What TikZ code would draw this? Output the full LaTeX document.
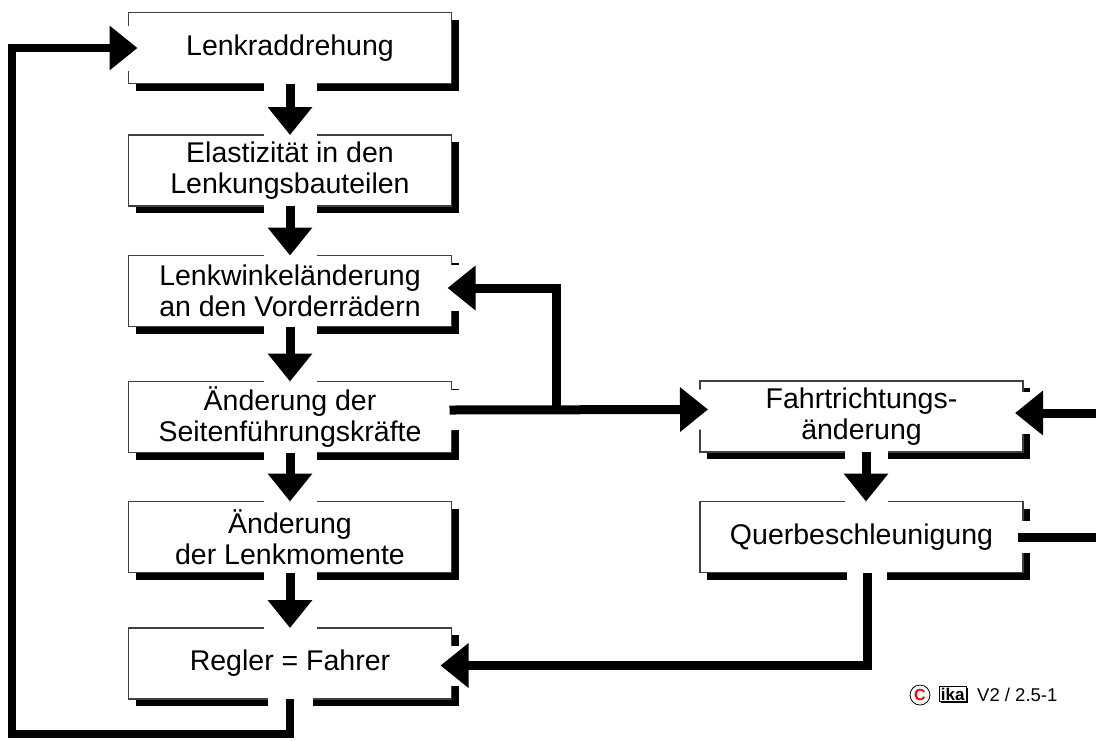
\documentclass[tikz,border=0pt]{standalone}
\usepackage{fontspec}
\setmainfont{Liberation Sans}
\usetikzlibrary{arrows.meta,shadows}

\begin{document}
\begin{tikzpicture}[x=1pt,y=-1pt,
  box/.style={draw=black!75, line width=1.1pt, fill=white,
    minimum width=323pt, minimum height=71pt, inner sep=0pt, outer sep=0pt,
    align=center, font=\fontsize{28.5}{30.5}\selectfont,
    general shadow={shadow xshift=7pt, shadow yshift=-7pt, fill=black}},
  conn/.style={line width=9pt, line join=miter, -{Triangle[width=43pt,length=28pt]}},
  plainline/.style={line width=9pt},
  halo/.style={draw=white, line width=#1, line cap=butt, line join=miter,
    shorten <=-3pt, shorten >=-3pt},
]
\useasboundingbox (0,0) rectangle (1096,740);

% flow boxes
\node[box] (b1) at (290,48)    {Lenkraddrehung};
\node[box] (b2) at (290,170.5) {Elastizität in den\\Lenkungsbauteilen};
\node[box] (b3) at (290,291)   {Lenkwinkeländerung\\an den Vorderrädern};
\node[box] (b4) at (290,417)   {Änderung der\\Seitenführungskräfte};
\node[box] (b5) at (290,537)   {Änderung\\der Lenkmomente};
\node[box] (b6) at (290,663.5) {Regler = Fahrer};
\node[box] (fa) at (861.5,416.5) {Fahrtrichtungs-\\änderung};
\node[box] (qu) at (861.5,537)   {Querbeschleunigung};

% branch point and open ends
\coordinate (j)   at (556,410);
\coordinate (ein) at (1096,413);
\coordinate (aus) at (1096,537);
\coordinate (lb)  at (12,734);

% white clearance under the connectors
\foreach \a/\b in {b1/b2,b2/b3,b3/b4,b4/b5,b5/b6}
  \draw[halo=53pt] (\a.south) -- (\b.north);
\draw[halo=46pt, shorten >=-6pt] (j) |- ([yshift=3pt]b3.east);
\draw[halo=40pt, shorten >=-10pt] ([yshift=7pt]b4.east) -- ([yshift=7pt]fa.west);
\draw[halo=43pt] ([xshift=4.5pt]fa.south) -- ([xshift=4.5pt]qu.north);
\draw[halo=32pt, shorten <=-8pt] (qu.east) -- (aus);
\draw[halo=42pt, shorten >=-10pt] (ein) -- ([yshift=3.5pt]fa.east);
\draw[halo=40pt, shorten >=-13pt] ([xshift=5.5pt]qu.south) |- ([yshift=-2pt]b6.east);
\draw[halo=45pt, shorten >=-11pt] (b6.south) |- (lb) |- (b1.west);

% connectors
\foreach \a/\b in {b1/b2,b2/b3,b3/b4,b4/b5,b5/b6}
  \draw[conn] (\a.south) -- (\b.north);
\draw[conn, shorten >=-4pt] (j) |- ([yshift=3pt]b3.east);
\draw[conn, shorten >=-8pt, shorten <=-2pt] ([yshift=7pt]b4.east) -- ([yshift=7pt]fa.west);
\draw[conn] ([xshift=4.5pt]fa.south) -- ([xshift=4.5pt]qu.north);
\draw[plainline, shorten <=-5pt] (qu.east) -- (aus);
\draw[conn, shorten >=-8pt] (ein) -- ([yshift=3.5pt]fa.east);
\draw[conn, shorten >=-11pt] ([xshift=5.5pt]qu.south) |- ([yshift=-2pt]b6.east);
\draw[conn, line width=8pt, shorten >=-9pt] (b6.south) |- (lb) |- (b1.west);

% copyright mark
\node[circle, draw, line width=0.8pt, minimum size=20pt, inner sep=0pt,
  text=red, font=\bfseries\fontsize{16}{16}\selectfont] (cp) at (920,695) {C};
\node[draw, line width=0.8pt, inner sep=1.5pt, fill=white, anchor=west,
  font=\bfseries\fontsize{17}{17}\selectfont,
  general shadow={shadow xshift=1.5pt, shadow yshift=-1.5pt, fill=black}]
  (ika) at (939,694) {ika};
\node[anchor=west, inner sep=0pt, font=\fontsize{18.5}{18.5}\selectfont]
  (ver) at (977,695) {V2 / 2.5-1};
\end{tikzpicture}
\end{document}
